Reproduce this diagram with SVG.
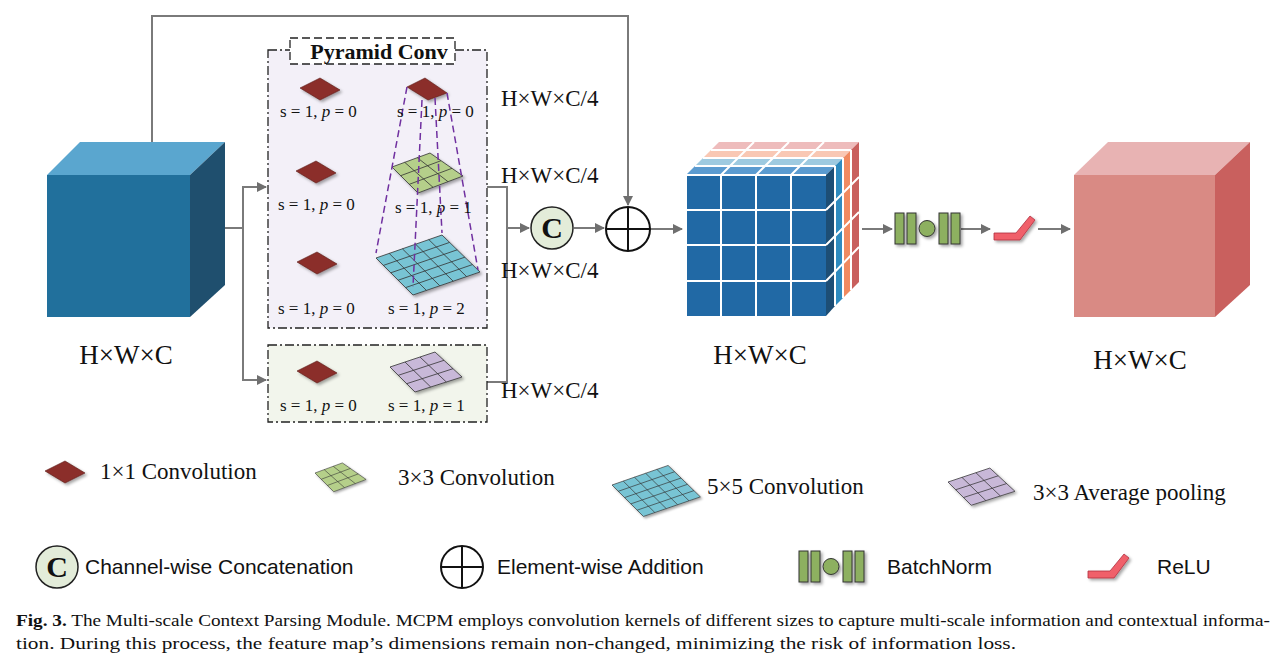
<svg xmlns="http://www.w3.org/2000/svg" width="1288" height="663" viewBox="0 0 1288 663">
<defs>
<style>
.ser{font-family:"Liberation Serif","Times New Roman",serif;fill:#111}
.san{font-family:"Liberation Sans",Arial,sans-serif;fill:#111}
.ln{fill:none;stroke:#7a7a7a;stroke-width:2}
.red{fill:#8b2f2a;stroke:#5a1a16;stroke-width:0.6}
.gl{stroke:#333;stroke-width:0.8;fill:none}
.wl{stroke:#fff;stroke-width:2;fill:none}
.bn{fill:#8db060;stroke:#333;stroke-width:1}
.pur{fill:none;stroke:#7030a0;stroke-width:1.5;stroke-dasharray:7 4}
</style>
<marker id="ar" viewBox="0 0 10 10" refX="9" refY="5" markerWidth="5" markerHeight="5" orient="auto"><path d="M0,0L10,5L0,10z" fill="#6f6f6f"/></marker>
<filter id="sh" x="-20%" y="-20%" width="150%" height="150%"><feDropShadow dx="2" dy="2" stdDeviation="1.5" flood-color="#000" flood-opacity="0.35"/></filter>
<polygon id="rk" class="red" points="0,10 20,0 40,12 20,22"/>
<g id="gk">
<polygon points="392,167 430,153 463,176 418,193" fill="#b5cf8a" stroke="#333" stroke-width="0.8"/>
<path class="gl" d="M400.7,175.7L441,160.7M409.3,184.3L452,168.3M404.7,162.3L433,187.3M417.3,157.7L448,181.7"/>
</g>
<g id="bk">
<polygon points="376,258 442,235 480,272 413,295" fill="#78c4d4" stroke="#333" stroke-width="0.8"/>
<path class="gl" d="M383.4,265.4L449.6,242.4M390.8,272.8L457.2,249.8M398.2,280.2L464.8,257.2M405.6,287.6L472.4,264.6M389.2,253.4L426.4,290.4M402.4,248.8L439.8,285.8M415.6,244.2L453.2,281.2M428.8,239.6L466.6,276.6"/>
</g>
<g id="pk">
<polygon points="390,367 435,352 462,377 415,392" fill="#c8b8d8" stroke="#333" stroke-width="0.8"/>
<path class="gl" d="M398.3,375.3L444,360.3M406.7,383.7L453,368.7M405,362L430.7,387M420,357L446.3,382"/>
</g>
<g id="bni">
<rect class="bn" x="0" y="0" width="9" height="31"/><rect class="bn" x="12" y="0" width="9" height="31"/>
<circle class="bn" cx="32" cy="15.5" r="8"/>
<rect class="bn" x="44" y="0" width="9" height="31"/><rect class="bn" x="56" y="0" width="9" height="31"/>
</g>
<polygon id="relu" points="0,17 22,17 36,0 41,4 26,24 0,24" fill="#f0606a" stroke="#b03040" stroke-width="0.8"/>
</defs>

<g id="connectors">
<path class="ln" d="M152,142V16H628V205" marker-end="url(#ar)"/>
<path class="ln" d="M225,228H243V187H266" marker-end="url(#ar)"/>
<path class="ln" d="M243,228V380H266" marker-end="url(#ar)"/>
<path class="ln" d="M487,187H507V382H487"/>
<path class="ln" d="M507,228H529" marker-end="url(#ar)"/>
<path class="ln" d="M574,228H604" marker-end="url(#ar)"/>
<path class="ln" d="M650,229H682" marker-end="url(#ar)"/>
<path class="ln" d="M862,229H892" marker-end="url(#ar)"/>
<path class="ln" d="M961,229H990" marker-end="url(#ar)"/>
<path class="ln" d="M1038,229H1070" marker-end="url(#ar)"/>
</g>

<g id="input-cube">
<polygon points="47,175 80,142 225,142 190,175" fill="#5aa6cf"/>
<polygon points="190,175 225,142 225,285 190,317" fill="#1f4f6e"/>
<rect x="47" y="175" width="143" height="142" fill="#21709c"/>
<text class="ser" x="126" y="364" font-size="27" text-anchor="middle">H×W×C</text>
</g>

<g id="pyramid-conv">
<rect x="268" y="50" width="219" height="278" fill="#f3f0f8" stroke="#222" stroke-width="1.3" stroke-dasharray="9 3 2 3"/>
<rect x="290" y="38" width="165" height="26" fill="#fff" stroke="#222" stroke-width="1.3" stroke-dasharray="8 4"/>
<text class="ser" x="379" y="59" font-size="22" font-weight="bold" text-anchor="middle">Pyramid Conv</text>
<use href="#rk" x="300" y="78" filter="url(#sh)"/>
<use href="#rk" x="296" y="161" filter="url(#sh)"/>
<use href="#rk" x="297" y="252" filter="url(#sh)"/>
<polygon class="red" points="407,87 425,78 447,93 428,100" filter="url(#sh)"/>
<use href="#gk" filter="url(#sh)"/>
<use href="#bk" filter="url(#sh)"/>
<path class="pur" d="M407,87L376,253M422,100L413,287M435,98L442,233M447,93L478,270"/>
<g font-size="17">
<text class="ser" x="280" y="117">s = 1, <tspan font-style="italic">p</tspan> = 0</text>
<text class="ser" x="278" y="210">s = 1, <tspan font-style="italic">p</tspan> = 0</text>
<text class="ser" x="278" y="314">s = 1, <tspan font-style="italic">p</tspan> = 0</text>
<text class="ser" x="397" y="117">s = 1, <tspan font-style="italic">p</tspan> = 0</text>
<text class="ser" x="395" y="213">s = 1, <tspan font-style="italic">p</tspan> = 1</text>
<text class="ser" x="388" y="314">s = 1, <tspan font-style="italic">p</tspan> = 2</text>
</g>
</g>

<g id="pool-branch">
<rect x="268" y="345" width="219" height="77" fill="#f2f5ec" stroke="#222" stroke-width="1.3" stroke-dasharray="9 3 2 3"/>
<use href="#rk" x="297" y="361" filter="url(#sh)"/>
<use href="#pk" filter="url(#sh)"/>
<g font-size="17">
<text class="ser" x="280" y="411">s = 1, <tspan font-style="italic">p</tspan> = 0</text>
<text class="ser" x="388" y="411">s = 1, <tspan font-style="italic">p</tspan> = 1</text>
</g>
</g>

<g id="dim-labels" font-size="23">
<text class="ser" x="501" y="106">H×W×C/4</text>
<text class="ser" x="501" y="183">H×W×C/4</text>
<text class="ser" x="501" y="278">H×W×C/4</text>
<text class="ser" x="501" y="398">H×W×C/4</text>
</g>

<g id="concat">
<circle cx="552" cy="228" r="21" fill="#e3ecd9" stroke="#222" stroke-width="1.5"/>
<text class="ser" x="552" y="238" font-size="30" font-weight="bold" text-anchor="middle">C</text>
</g>
<g id="add">
<circle cx="628" cy="229" r="22" fill="#fff" stroke="#111" stroke-width="2"/>
<path d="M606,229H650M628,207V251" stroke="#111" stroke-width="2"/>
</g>

<g id="feature-cube">
<polygon points="711,150 719,142 859,142 851,150" fill="#eebcbc"/>
<polygon points="703,158 711,150 851,150 843,158" fill="#f9c8b4"/>
<polygon points="695,166 703,158 843,158 835,166" fill="#9ecae0"/>
<polygon points="686,175 695,166 835,166 826,175" fill="#5b9bd0"/>
<path class="wl" stroke-width="1.5" d="M721,175L754,142M756,175L789,142M791,175L824,142M695,166H835M703,158H843M711,150H851"/>
<polygon points="851,150 859,142 859,282 851,290" fill="#c9605e"/>
<polygon points="843,158 851,150 851,290 843,298" fill="#f08a60"/>
<polygon points="835,166 843,158 843,298 835,306" fill="#2e8bbf"/>
<polygon points="826,175 835,166 835,306 826,316" fill="#1d4e75"/>
<path class="wl" stroke-width="1.5" d="M826,210L859,177M826,245L859,212M826,281L859,247M835,166V306M843,158V298M851,150V290"/>
<rect x="686" y="175" width="140" height="141" fill="#2169a5"/>
<path class="wl" d="M721,175V316M756,175V316M791,175V316M686,210H826M686,245H826M686,281H826M686,175H826M686,175V316"/>
<text class="ser" x="760" y="364" font-size="27" text-anchor="middle">H×W×C</text>
</g>

<g id="batchnorm"><use href="#bni" x="895" y="213" filter="url(#sh)"/></g>
<g id="relu-node"><use href="#relu" x="994" y="216" filter="url(#sh)"/></g>

<g id="output-cube">
<polygon points="1074,175 1108,142 1250,142 1215,175" fill="#e8b3b3"/>
<polygon points="1215,175 1250,142 1250,285 1215,317" fill="#c9605e"/>
<rect x="1074" y="175" width="141" height="142" fill="#d98a84"/>
<text class="ser" x="1140" y="369" font-size="27" text-anchor="middle">H×W×C</text>
</g>

<g id="legend">
<use href="#rk" x="45" y="461" filter="url(#sh)"/>
<text class="ser" x="100" y="479" font-size="23">1×1 Convolution</text>
<use href="#gk" transform="translate(315,473) scale(0.72) translate(-392,-167)" filter="url(#sh)"/>
<text class="ser" x="398" y="485" font-size="23">3×3 Convolution</text>
<use href="#bk" transform="translate(612,485) scale(0.85) translate(-376,-258)" filter="url(#sh)"/>
<text class="ser" x="707" y="494" font-size="23">5×5 Convolution</text>
<use href="#pk" transform="translate(948,482) scale(0.93) translate(-390,-367)" filter="url(#sh)"/>
<text class="ser" x="1033" y="500" font-size="23">3×3 Average pooling</text>
<circle cx="57" cy="567" r="21" fill="#e3ecd9" stroke="#222" stroke-width="1.5"/>
<text class="ser" x="57" y="577" font-size="30" font-weight="bold" text-anchor="middle">C</text>
<text class="san" x="85" y="574" font-size="21">Channel-wise Concatenation</text>
<circle cx="462" cy="567" r="21" fill="#fff" stroke="#111" stroke-width="2"/>
<path d="M441,567H483M462,546V588" stroke="#111" stroke-width="2"/>
<text class="san" x="497" y="574" font-size="21">Element-wise Addition</text>
<use href="#bni" x="799" y="551" filter="url(#sh)"/>
<text class="san" x="887" y="574" font-size="21">BatchNorm</text>
<use href="#relu" x="1088" y="554" filter="url(#sh)"/>
<text class="san" x="1157" y="574" font-size="21">ReLU</text>
</g>

<g id="caption">
<text class="ser" x="16" y="626" font-size="16" textLength="1254" lengthAdjust="spacingAndGlyphs"><tspan font-weight="bold">Fig. 3.</tspan> The Multi-scale Context Parsing Module. MCPM employs convolution kernels of different sizes to capture multi-scale information and contextual informa-</text>
<text class="ser" x="16" y="649" font-size="16" textLength="1000" lengthAdjust="spacingAndGlyphs">tion. During this process, the feature map’s dimensions remain non-changed, minimizing the risk of information loss.</text>
</g>
</svg>
